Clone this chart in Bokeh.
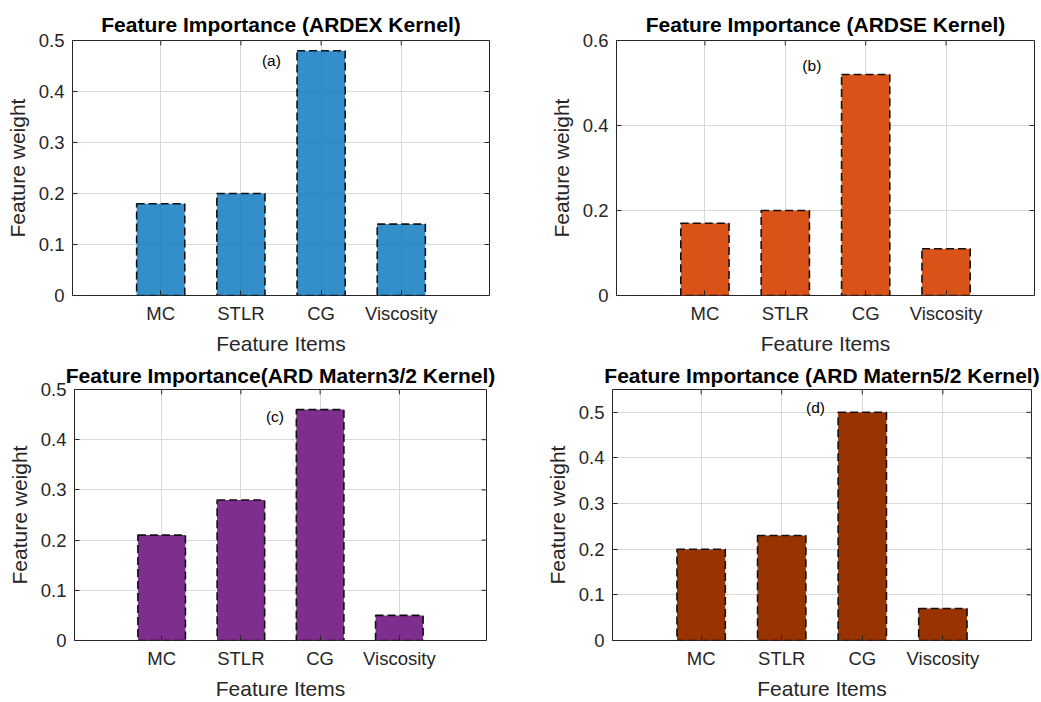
from bokeh.plotting import figure
from bokeh.layouts import column, row
from bokeh.models import FixedTicker, Range1d, Label
from bokeh.embed import file_html
from bokeh.resources import INLINE

# Feature names shared by all four kernels
features = ["MC", "STLR", "CG", "Viscosity"]

# Feature weights for each ARD kernel
ardex_weights = [0.18, 0.20, 0.48, 0.14]
ardse_weights = [0.17, 0.20, 0.52, 0.11]
matern32_weights = [0.21, 0.28, 0.46, 0.05]
matern52_weights = [0.20, 0.23, 0.50, 0.07]

# y-axis ticks per panel
ticks_a = [0, 0.1, 0.2, 0.3, 0.4, 0.5]
ticks_b = [0, 0.2, 0.4, 0.6]
ticks_c = [0, 0.1, 0.2, 0.3, 0.4, 0.5]
ticks_d = [0, 0.1, 0.2, 0.3, 0.4, 0.5]

FONT = "Liberation Sans"
INK = "#262626"
X_LO, X_HI = -0.1, 5.1
TICK_PX = 5


def panel(title, weights, color, alpha, yticks, ymax, tag, tag_xy, geom, title_gap):
    w, h, left, right, top, bottom = geom
    fw = w - left - right
    fh = h - top - bottom
    xs = list(range(1, len(features) + 1))
    p = figure(width=w, height=h, output_backend="svg", toolbar_location=None,
               x_range=Range1d(X_LO, X_HI), y_range=Range1d(0, ymax),
               min_border_left=left, min_border_right=right,
               min_border_top=top, min_border_bottom=bottom)
    p.title.text = title
    p.title.text_font = FONT
    p.title.text_font_size = "21px"
    p.title.text_font_style = "bold"
    p.title.text_color = "#000000"
    p.title.align = "center"
    p.title.standoff = title_gap

    p.outline_line_color = INK
    p.outline_line_width = 1
    p.outline_line_alpha = 1

    p.grid.grid_line_color = "#d9d9d9"
    p.grid.grid_line_alpha = 1

    p.vbar(x=xs, top=weights, width=0.6, bottom=0,
           fill_color=color, fill_alpha=alpha,
           line_color="#111111", line_width=1.6, line_dash="8 4")

    xt = FixedTicker(ticks=xs)
    yt = FixedTicker(ticks=yticks)
    p.xaxis.ticker = xt
    p.yaxis.ticker = yt
    p.xgrid.ticker = xt
    p.ygrid.ticker = yt
    p.xaxis.major_label_overrides = {i: f for i, f in zip(xs, features)}
    p.yaxis.major_label_overrides = {v: ("0" if v == 0 else f"{v:g}") for v in yticks}

    for ax in (p.xaxis[0], p.yaxis[0]):
        ax.axis_line_color = None
        ax.major_tick_in = TICK_PX
        ax.major_tick_out = 0
        ax.major_tick_line_color = INK
        ax.minor_tick_line_color = None
        ax.major_label_text_font = FONT
        ax.major_label_text_font_size = "18.5px"
        ax.major_label_text_color = INK
        ax.axis_label_text_font = FONT
        ax.axis_label_text_font_size = "21px"
        ax.axis_label_text_font_style = "normal"
        ax.axis_label_text_color = INK
    p.xaxis.axis_label = "Feature Items"
    p.yaxis.axis_label = "Feature weight"
    p.xaxis.major_label_standoff = 7
    p.yaxis.major_label_standoff = 8
    p.xaxis.axis_label_standoff = 5
    p.yaxis.axis_label_standoff = 7

    # inward tick marks on the right and top sides of the box
    dx = (X_HI - X_LO) * TICK_PX / fw
    dy = ymax * TICK_PX / fh
    p.segment(x0=[X_HI] * len(yticks), x1=[X_HI - dx] * len(yticks),
              y0=yticks, y1=yticks, line_color=INK, line_width=1)
    p.segment(x0=xs, x1=xs, y0=[ymax] * len(xs), y1=[ymax - dy] * len(xs),
              line_color=INK, line_width=1)

    p.add_layout(Label(x=tag_xy[0], y=tag_xy[1], text=tag, text_font=FONT,
                       text_font_size="15.5px", text_color="#000000",
                       text_align="center", text_baseline="middle"))
    return p


pa = panel("Feature Importance (ARDEX Kernel)", ardex_weights, "#0072BD", 0.8,
           ticks_a, 0.5, "(a)", (2.38, 0.46), (540, 357, 72, 51, 39, 62), 9)
pb = panel("Feature Importance (ARDSE Kernel)", ardse_weights, "#D95319", 1.0,
           ticks_b, 0.6, "(b)", (2.33, 0.542), (501, 357, 76, 7, 40, 61), 9)
pc = panel("Feature Importance(ARD Matern3/2 Kernel)", matern32_weights, "#7E2F8E", 1.0,
           ticks_c, 0.5, "(c)", (2.43, 0.446), (540, 345, 74, 54, 29, 58), 5)
pd = panel("Feature Importance (ARD Matern5/2 Kernel)", matern52_weights, "#993300", 1.0,
           ticks_d, 0.55, "(d)", (2.42, 0.51), (501, 345, 72, 10, 32, 58), 6)

layout = column(row(pa, pb, spacing=0), row(pc, pd, spacing=0), spacing=0)
open("out.html", "w").write(file_html(layout, INLINE))
